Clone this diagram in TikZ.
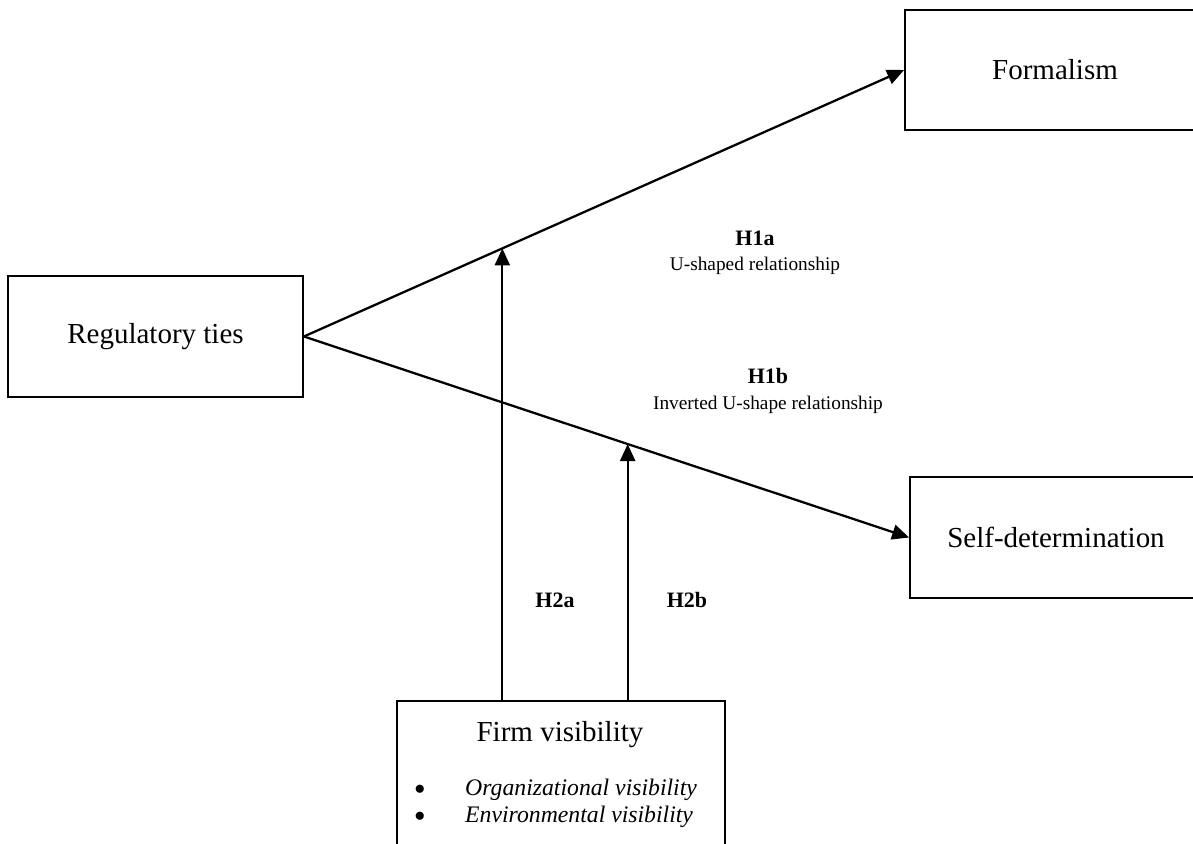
\documentclass[tikz,border=0pt]{standalone}
\usepackage{fontspec}
\setmainfont{Liberation Serif}
\usetikzlibrary{arrows.meta,calc}

\tikzset{
  box/.style={draw, line width=1pt, inner sep=0pt, font=\fontsize{16.5}{20}\selectfont},
  link/.style={line width=1.3pt, -{Triangle[length=3.4mm,width=3mm]}},
  hyp/.style={align=center, font=\fontsize{11}{14.5}\selectfont},
  hlab/.style={font=\fontsize{12.5}{15}\selectfont\bfseries}
}

\begin{document}
\begin{tikzpicture}

	\clip (0, 0) rectangle (23.86, 16.88);

	\node [box, minimum width=5.9cm, minimum height=2.42cm] (reg) at (3.11, 10.15) {Regulatory ties};
	\node [box, minimum width=6cm, minimum height=2.4cm] (form) at (21.1, 15.48) {Formalism};
	\node [box, minimum width=5.84cm, minimum height=2.42cm] (self) at (21.12, 6.13) {Self-determination};
	\node [box, minimum width=6.56cm, minimum height=3.4cm] (firm) at (11.22, 1.16) {};

	\node [font=\fontsize{16.5}{20}\selectfont] (firmtitle) at (11.2, 2.18) {Firm visibility};
	\node [font=\fontsize{13.5}{16}\selectfont\itshape, anchor=west] (orgvis) at (9.18, 1.08) {Organizational visibility};
	\node [font=\fontsize{13.5}{16}\selectfont\itshape, anchor=west] (envvis) at (9.18, 0.54) {Environmental visibility};
	\node [scale=1.2] (bulorg) at (8.4, 1.08) {$\bullet$};
	\node [scale=1.2] (bulenv) at (8.4, 0.54) {$\bullet$};

	% main paths
	\draw [link] (reg.east) -- (form.west);
	\draw [link] (reg.east) -- (self.west);

	% moderation
	\coordinate (m1) at ($(reg.east)!0.3306!(form.west)$);
	\coordinate (m2) at ($(reg.east)!0.535!(self.west)$);
	\draw [link] (m1 |- firm.north) -- (m1);
	\draw [link] (m2 |- firm.north) -- (m2);

	\node [hyp] (h1a) at (15.1, 11.82) {\textbf{\fontsize{12.5}{15}\selectfont H1a}\\U-shaped relationship};
	\node [hyp] (h1b) at (15.36, 9.06) {\textbf{\fontsize{12.5}{15}\selectfont H1b}\\Inverted U-shape relationship};
	\node [hlab] (h2a) at (11.1, 4.88) {H2a};
	\node [hlab] (h2b) at (13.74, 4.88) {H2b};

\end{tikzpicture}
\end{document}
